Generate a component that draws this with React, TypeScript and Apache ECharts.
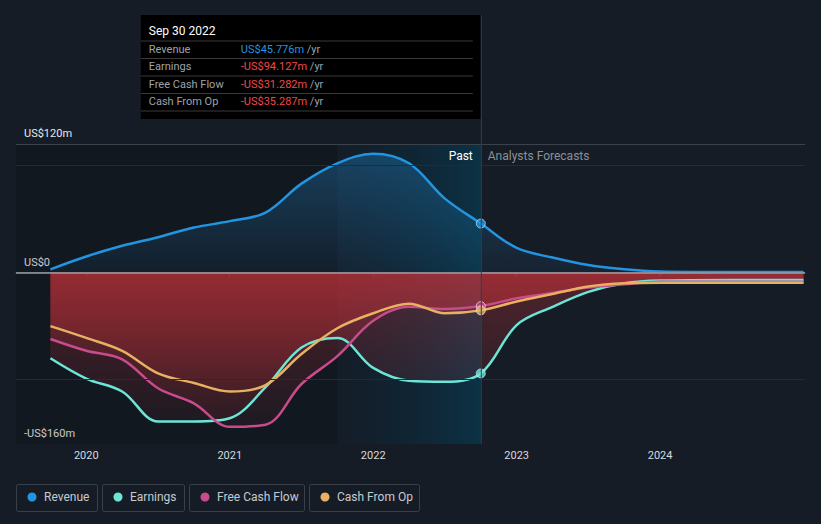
import React, { useEffect, useRef } from "react";
import * as echarts from "echarts";

// ---- data ----
const years = [2019.75, 2020.0, 2020.25, 2020.5, 2020.75, 2021.0, 2021.25, 2021.5, 2021.75, 2022.0, 2022.25, 2022.5, 2022.75, 2023.0, 2023.25, 2023.5, 2023.75, 2024.0, 2024.5, 2025.0];
const revenue = [3, 15, 25, 33, 42, 48, 56, 83, 102, 111, 102, 69, 45.776, 23, 14, 7, 3, 1, 0.5, 0.5];
const earnings = [-80, -99, -111, -139, -139, -136, -107, -70, -61, -89, -101, -102, -94.127, -49, -32, -18, -10, -7.5, -7, -7];
const freeCashFlow = [-62, -73, -81, -108, -122, -144, -142, -104, -78, -45, -32, -34, -31.282, -24, -19, -14, -11, -8.5, -8.5, -8.5];
const cashFromOp = [-50, -61, -73, -94, -103, -111, -105, -76, -52, -38, -29, -38, -35.287, -27, -20, -13, -10, -9.5, -9.5, -9.5];

const seriesNames = ["Revenue", "Earnings", "Free Cash Flow", "Cash From Op"];
const seriesColors = ["#2394df", "#6ce5d6", "#c84b8c", "#e8b061"];
const xTicks = [2020, 2021, 2022, 2023, 2024];
const yLabelValues = [-160, 0, 120];
const yGridValues = [100, -100];
const xMin = 2019.51;
const xMax = 2025.01;
const yMin = -160;
const yMax = 120;
const pastYearStart = 2021.75;
const pastEnd = 2022.75;
const tooltipTitle = "Sep 30 2022";
const pastLabel = "Past";
const forecastLabel = "Analysts Forecasts";

const FONT = "Roboto, 'Noto Sans', sans-serif";

function fmtAxis(v: number): string {
  if (v === 0) return "US$0";
  return v > 0 ? `US$${v}m` : `-US$${-v}m`;
}
function fmtVal(v: number): string {
  return `${v < 0 ? "-" : ""}US$${Math.abs(v).toFixed(3)}m`;
}

export default function App() {
  const ref = useRef<HTMLDivElement>(null);
  useEffect(() => {
    document.body.style.margin = "0";
    document.body.style.background = "#161c26";
    const chart = echarts.init(ref.current!, null, { renderer: "svg" });
    const allSeries = [revenue, earnings, freeCashFlow, cashFromOp];
    const pastIdx = years.indexOf(pastEnd);

    const redArea = {
      color: new echarts.graphic.LinearGradient(0, 0, 0, 1, [
        { offset: 0, color: "rgba(220,52,60,0.42)" },
        { offset: 1, color: "rgba(220,52,60,0.09)" },
      ]),
    };

    const lineSeries: any[] = allSeries.map((arr, i) => ({
      name: seriesNames[i],
      type: "line",
      data: years.map((x, j) => [x, arr[j]]),
      smooth: 0.35,
      showSymbol: false,
      z: 2,
      lineStyle: { color: seriesColors[i], width: 2.5 },
      itemStyle: { color: seriesColors[i] },
      areaStyle:
        i === 0
          ? {
              color: new echarts.graphic.LinearGradient(0, 0, 0, 1, [
                { offset: 0, color: "rgba(35,148,223,0.45)" },
                { offset: 1, color: "rgba(35,148,223,0.08)" },
              ]),
            }
          : redArea,
    }));

    const option: any = {
      animation: false,
      backgroundColor: "#161c26",
      textStyle: { fontFamily: FONT },
      grid: { left: 16, right: 16, top: 144, bottom: 80 },
      xAxis: {
        type: "value",
        min: xMin,
        max: xMax,
        splitLine: { show: false },
        axisLine: { show: true, lineStyle: { color: "#464c56", width: 1 } },
        axisTick: { show: true, customValues: xTicks, length: 4, lineStyle: { color: "#464c56" } },
        axisLabel: {
          customValues: xTicks,
          color: "#d6dade",
          fontSize: 11,
          fontFamily: FONT,
          margin: 6,
          formatter: (v: number) => String(Math.round(v)),
        },
      },
      yAxis: {
        type: "value",
        min: yMin,
        max: yMax,
        splitLine: { show: false },
        axisLine: { show: false },
        axisTick: { show: false },
        axisLabel: {
          inside: true,
          customValues: yLabelValues,
          verticalAlign: "bottom",
          padding: [0, 0, 5, 0],
          margin: 8,
          color: "#e6e8eb",
          fontSize: 11,
          fontFamily: FONT,
          formatter: (v: number) => fmtAxis(v),
        },
      },
      series: [
        {
          type: "line",
          data: [],
          z: 1,
          silent: true,
          markArea: {
            silent: true,
            data: [
              [
                { xAxis: xMin, itemStyle: { color: "rgba(0,0,0,0.14)" } },
                { xAxis: pastYearStart },
              ],
              [
                {
                  xAxis: pastYearStart,
                  itemStyle: {
                    color: new echarts.graphic.LinearGradient(0, 0, 1, 0, [
                      { offset: 0, color: "rgba(5,40,60,0.12)" },
                      { offset: 1, color: "rgba(0,72,100,0.5)" },
                    ]),
                  },
                },
                { xAxis: pastEnd },
              ],
            ],
          },
        },
        ...lineSeries,
        {
          type: "line",
          data: [],
          z: 3,
          silent: true,
          markLine: {
            silent: true,
            symbol: "none",
            label: { show: false },
            data: [
              { yAxis: yMax, lineStyle: { color: "#3c424c", width: 1, type: "solid" } },
              ...yGridValues.map((v) => ({ yAxis: v, lineStyle: { color: "#252b35", width: 1, type: "solid" } })),
              { yAxis: 0, lineStyle: { color: "#9a9ca2", width: 1.5, type: "solid" } },
            ],
          },
        },
        {
          type: "scatter",
          z: 5,
          silent: true,
          symbolSize: 9,
          data: allSeries.map((arr, i) => ({
            value: [pastEnd, arr[pastIdx]],
            itemStyle: { color: seriesColors[i], borderColor: "rgba(255,255,255,0.75)", borderWidth: 1 },
          })),
        },
      ],
    };
    chart.setOption(option);

    // graphics positioned through the chart's own scales
    const [lineX, gridTop] = chart.convertToPixel({ gridIndex: 0 }, [pastEnd, yMax]) as number[];
    const [, gridBottom] = chart.convertToPixel({ gridIndex: 0 }, [pastEnd, yMin]) as number[];

    const boxTop = 15;
    const boxW = 340;
    const boxH = 104;
    const boxLeft = lineX - boxW;
    const rowH = 17.5;
    const tipRows = allSeries.map((arr, i) => {
      const v = arr[pastIdx];
      const y = boxTop + 34 + i * rowH;
      return [
        {
          type: "text",
          x: boxLeft + 8,
          y,
          style: { text: seriesNames[i], fill: "#9ea3aa", fontSize: 11, fontFamily: FONT, verticalAlign: "middle" },
        },
        {
          type: "text",
          x: boxLeft + 100,
          y,
          style: {
            text: `{v|${fmtVal(v)}}{u| /yr}`,
            fontSize: 11,
            fontFamily: FONT,
            verticalAlign: "middle",
            rich: {
              v: { fill: i === 0 ? "#2394df" : "#f04848", fontSize: 11, fontFamily: FONT },
              u: { fill: "#9ea3aa", fontSize: 11, fontFamily: FONT },
            },
          },
        },
      ];
    }).flat();
    const sepLines = [0, 1, 2, 3, 4].map((k) => ({
      type: "line",
      shape: {
        x1: boxLeft,
        y1: boxTop + 26 + k * rowH,
        x2: boxLeft + boxW - 8,
        y2: boxTop + 26 + k * rowH,
      },
      style: { stroke: "#3a3a3a", lineWidth: 1 },
    }));

    const legendBoxes = [
      { x: 16, w: 81 },
      { x: 102, w: 82 },
      { x: 189, w: 115 },
      { x: 309, w: 110 },
    ];
    const legendEls = legendBoxes.map((b, i) => ({
      type: "group",
      children: [
        {
          type: "rect",
          shape: { x: b.x + 0.5, y: 484.5, width: b.w, height: 27, r: 2 },
          style: { fill: "transparent", stroke: "#3a404a", lineWidth: 1 },
        },
        { type: "circle", shape: { cx: b.x + 16, cy: 497, r: 4.5 }, style: { fill: seriesColors[i] } },
        {
          type: "text",
          x: b.x + 28,
          y: 497,
          style: { text: seriesNames[i], fill: "#c6cad0", fontSize: 12, fontFamily: FONT, verticalAlign: "middle" },
        },
      ],
    }));

    chart.setOption({
      graphic: [
        {
          type: "line",
          silent: true,
          z: 10,
          shape: { x1: lineX + 0.5, y1: boxTop, x2: lineX + 0.5, y2: gridBottom },
          style: { stroke: "#1f4757", lineWidth: 1 },
        },
        {
          type: "group",
          z: 20,
          children: [
            { type: "rect", shape: { x: boxLeft, y: boxTop, width: boxW, height: boxH }, style: { fill: "#000000" } },
            {
              type: "text",
              x: boxLeft + 8,
              y: boxTop + 16,
              style: { text: tooltipTitle, fill: "#ffffff", fontSize: 12, fontFamily: FONT, verticalAlign: "middle" },
            },
            ...sepLines,
            ...tipRows,
          ],
        },
        {
          type: "text",
          z: 20,
          x: lineX - 8,
          y: gridTop + 12,
          style: { text: pastLabel, fill: "#ffffff", fontSize: 12, fontFamily: FONT, align: "right", verticalAlign: "middle" },
        },
        {
          type: "text",
          z: 20,
          x: lineX + 7,
          y: gridTop + 12,
          style: { text: forecastLabel, fill: "#8b9097", fontSize: 12, fontFamily: FONT, align: "left", verticalAlign: "middle" },
        },
        ...legendEls,
      ],
    });

    return () => chart.dispose();
  }, []);
  return (
    <div
      ref={ref}
      style={{ position: "fixed", left: 0, top: 0, width: 821, height: 524, background: "#161c26" }}
    />
  );
}
